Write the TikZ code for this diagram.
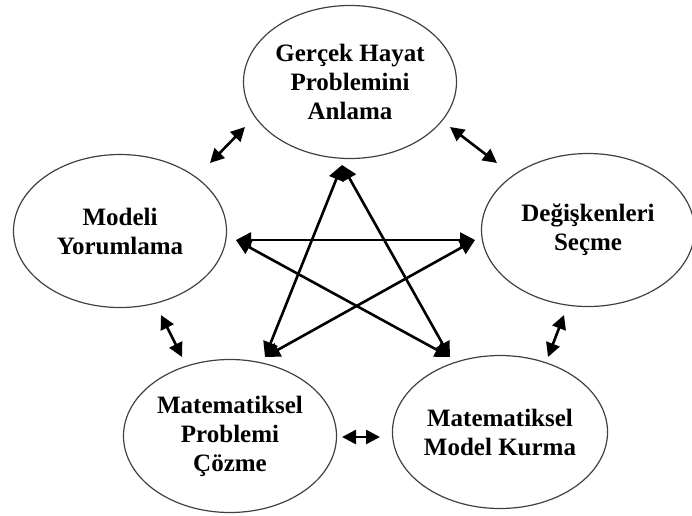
\documentclass[tikz,border=0pt]{standalone}
\usepackage{fontspec}
\setmainfont{Liberation Serif}
\usetikzlibrary{arrows.meta,shapes.geometric}
\begin{document}
\begin{tikzpicture}[x=1pt,y=-1pt,
  bub/.style={ellipse, draw=black!75, line width=1.2pt, inner sep=0pt,
    minimum width=213pt, minimum height=153pt, align=center,
    font=\bfseries\fontsize{25}{29}\selectfont},
  dbl/.style={line width=2.6pt,
    {Triangle[length=14pt,width=14pt]}-{Triangle[length=14pt,width=14pt]}},
  star/.style={line width=2.6pt,
    {Triangle[length=15pt,width=15pt]}-{Triangle[length=15pt,width=15pt]}}]
\useasboundingbox (0,0) rectangle (692,515);
\node[bub] (top) at (350,82) {Gerçek Hayat\\Problemini\\Anlama};
\node[bub] (left) at (120,231) {Modeli\\Yorumlama};
\node[bub] (right) at (588,230) {Değişkenleri\\Seçme};
\node[bub] (bl) at (230,436) {Matematiksel\\Problemi\\Çözme};
\node[bub] (br) at (500,432) {Matematiksel\\Model Kurma};
% short double arrows
\coordinate (a1) at (210,163); \coordinate (a2) at (245,127);
\coordinate (b1) at (450,127); \coordinate (b2) at (497,163);
\coordinate (c1) at (161,315); \coordinate (c2) at (182,357);
\coordinate (d1) at (564,315); \coordinate (d2) at (548,357);
\coordinate (e1) at (342,437); \coordinate (e2) at (380,437);
\draw[dbl] (a1) -- (a2);
\draw[dbl] (b1) -- (b2);
\draw[dbl] (c1) -- (c2);
\draw[dbl] (d1) -- (d2);
\draw[dbl] (e1) -- (e2);
% star
\coordinate (sT) at (342,165);
\coordinate (sL) at (236,240);
\coordinate (sR) at (475,240);
\coordinate (sBL) at (265,357);
\coordinate (sBR) at (450,357);
\draw[star] (sT) -- (sBL);
\draw[star] (sT) -- (sBR);
\draw[star] (sL) -- (sR);
\draw[star] (sL) -- (sBR);
\draw[star] (sR) -- (sBL);
\end{tikzpicture}
\end{document}
